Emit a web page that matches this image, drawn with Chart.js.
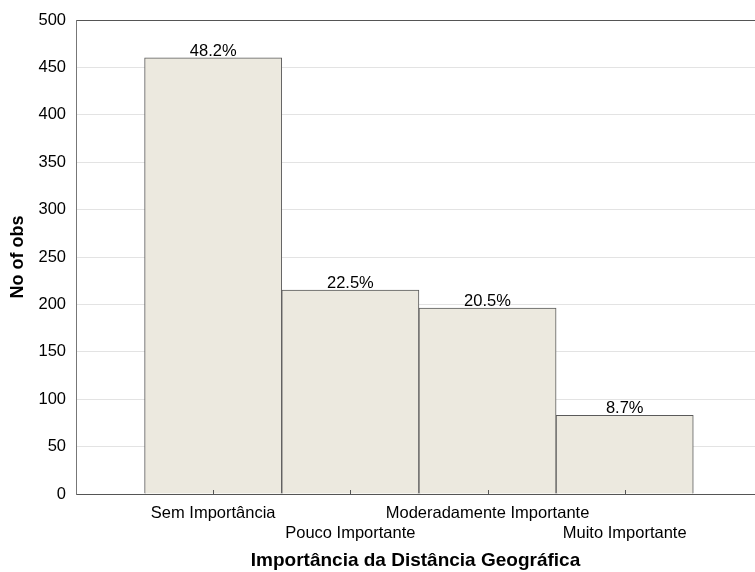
<!DOCTYPE html>
<html>
<head>
<meta charset="utf-8">
<script src="https://cdn.jsdelivr.net/npm/chart.js@4.4.1/dist/chart.umd.min.js"></script>
<style>
  html, body { margin: 0; padding: 0; background: #fff; }
</style>
</head>
<body>
<canvas id="grafico" width="755" height="572"></canvas>
<script>
// dados
const categorias = ['Sem Importância', 'Pouco Importante', 'Moderadamente Importante', 'Muito Importante'];
const posicoes = [1, 2, 3, 4];
const observacoes = [460, 215, 196, 83];
const percentuais = ['48.2%', '22.5%', '20.5%', '8.7%'];
const yTicks = [0, 50, 100, 150, 200, 250, 300, 350, 400, 450, 500];

const fonte = '"Liberation Sans", Arial, sans-serif';

// rótulos de percentagem sobre as barras + pequenos traços no eixo x
const rotulosPlugin = {
    id: 'rotulos',
    afterDatasetsDraw(chart) {
        const ctx = chart.ctx;
        const meta = chart.getDatasetMeta(0);
        const xScale = chart.scales.x;
        const bottom = chart.chartArea.bottom;
        ctx.save();
        ctx.font = '16.5px ' + fonte;
        ctx.fillStyle = '#000';
        ctx.textAlign = 'center';
        ctx.textBaseline = 'alphabetic';
        meta.data.forEach(function (bar, i) {
            ctx.fillText(percentuais[i], bar.x, bar.y - 2);
        });
        ctx.strokeStyle = '#555';
        ctx.lineWidth = 1;
        posicoes.forEach(function (v) {
            const px = Math.round(xScale.getPixelForValue(v)) + 0.5;
            ctx.beginPath();
            ctx.moveTo(px, bottom);
            ctx.lineTo(px, bottom - 4);
            ctx.stroke();
        });
        ctx.restore();
    }
};

const ctx = document.getElementById('grafico').getContext('2d');
const grafico = new Chart(ctx, {
    type: 'bar',
    data: {
        datasets: [{
            label: 'No of obs',
            data: posicoes.map(function (x, i) { return { x: x, y: observacoes[i] }; }),
            backgroundColor: '#ECE9DF',
            borderColor: '#5a5a5a',
            borderWidth: 1,
            barPercentage: 1,
            categoryPercentage: 1
        }]
    },
    options: {
        responsive: false,
        animation: false,
        layout: { padding: { top: 20, right: 0, left: 0, bottom: 0 } },
        plugins: {
            legend: { display: false },
            tooltip: { enabled: false }
        },
        scales: {
            x: {
                type: 'linear',
                offset: false,
                min: 0,
                max: 4.95,
                afterBuildTicks: function (scale) {
                    scale.ticks = posicoes.map(function (v) { return { value: v }; });
                },
                afterFit: function (scale) { scale.height = 78; },
                grid: { display: false, drawTicks: false, offset: false },
                border: { display: true, color: '#555', width: 1 },
                ticks: {
                    autoSkip: false,
                    maxRotation: 0,
                    padding: 10,
                    color: '#000',
                    font: { family: fonte, size: 16.5 },
                    callback: function (value) {
                        const i = posicoes.indexOf(value);
                        if (i < 0) return '';
                        return i % 2 === 0 ? [categorias[i], ''] : ['', categorias[i]];
                    }
                },
                title: {
                    display: true,
                    text: 'Importância da Distância Geográfica',
                    color: '#000',
                    font: { family: fonte, size: 19, weight: 'bold' },
                    padding: { top: 0, bottom: 0 }
                }
            },
            y: {
                min: 0,
                max: 500,
                afterBuildTicks: function (scale) {
                    scale.ticks = yTicks.map(function (v) { return { value: v }; });
                },
                afterFit: function (scale) { scale.width = 76; },
                grid: {
                    drawTicks: false,
                    color: function (c) { return c.tick && c.tick.value === 500 ? '#555' : '#e3e3e3'; },
                    lineWidth: 1
                },
                border: { display: true, color: '#777', width: 1 },
                ticks: {
                    padding: 10,
                    color: '#000',
                    font: { family: fonte, size: 16.5 }
                },
                title: {
                    display: true,
                    text: 'No of obs',
                    color: '#000',
                    font: { family: fonte, size: 18, weight: 'bold' },
                    padding: { top: 7, bottom: 0 }
                }
            }
        }
    },
    plugins: [rotulosPlugin]
});
</script>
</body>
</html>
